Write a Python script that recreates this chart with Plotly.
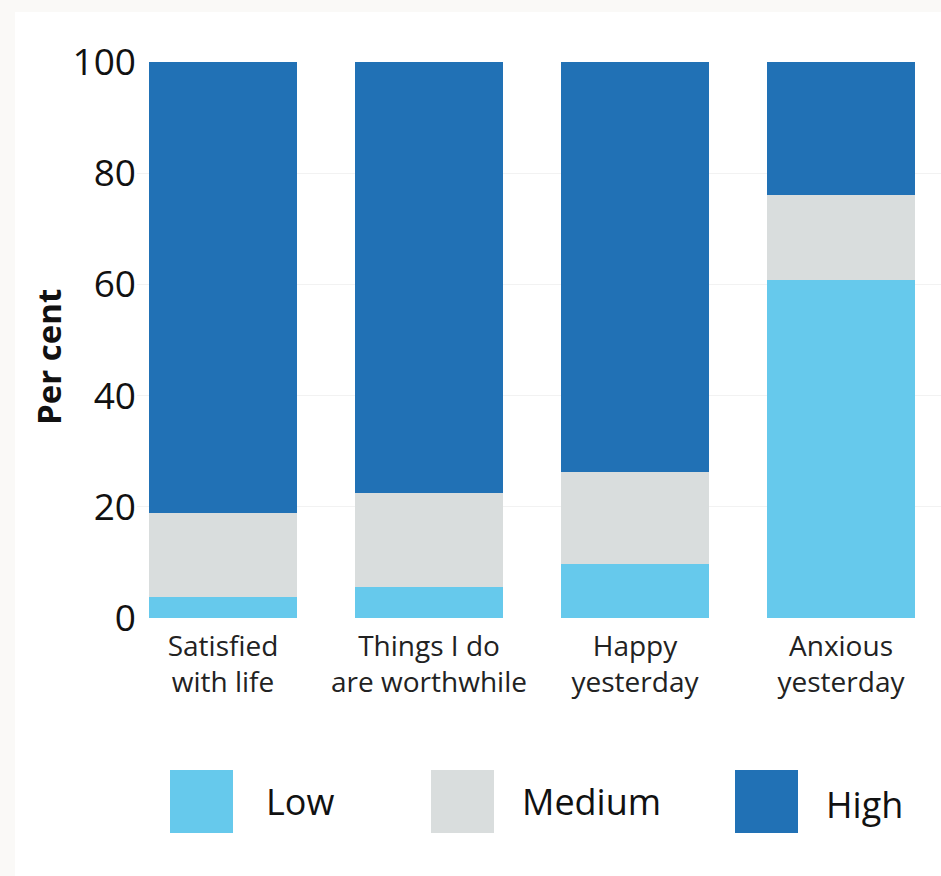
import plotly.graph_objects as go

categories = ["Satisfied<br>with life", "Things I do<br>are worthwhile", "Happy<br>yesterday", "Anxious<br>yesterday"]
series_names = ["Low", "Medium", "High"]
low = [3.7, 5.6, 9.8, 60.8]
medium = [15.1, 16.8, 16.4, 15.3]
high = [81.2, 77.6, 73.8, 23.9]
series_values = [low, medium, high]
colors = ["#66c9ec", "#d9dddd", "#2171b5"]
y_ticks = [0, 20, 40, 60, 80, 100]

FONT = "Open Sans"
W, H = 941, 876
L, R, T, B = 137, 941, 62, 618

fig = go.Figure()
for name, vals, col in zip(series_names, series_values, colors):
    fig.add_trace(go.Bar(x=categories, y=vals, name=name, marker=dict(color=col, line=dict(width=0)),
                         showlegend=False))

pw = R - L
ph = B - T
def px_x(p):
    return (p - L) / pw
def px_y(p):
    return (B - p) / ph

shapes = [dict(type="rect", xref="paper", yref="paper", x0=px_x(15), x1=px_x(945), y0=px_y(880), y1=px_y(12),
               fillcolor="white", line=dict(width=0), layer="below")]
annotations = [dict(xref="paper", yref="paper", x=px_x(48), y=px_y(357), text="<b>Per cent</b>", textangle=-90,
                    showarrow=False, xanchor="center", yanchor="middle",
                    font=dict(family=FONT, size=33, color="#111111"))]
leg_sq_x = [170, 431, 735]
leg_txt_x = [264, 520, 824]
for i, (name, col) in enumerate(zip(series_names, colors)):
    shapes.append(dict(type="rect", xref="paper", yref="paper", x0=px_x(leg_sq_x[i]), x1=px_x(leg_sq_x[i] + 63),
                       y0=px_y(833), y1=px_y(770), fillcolor=col, line=dict(width=0)))
    annotations.append(dict(xref="paper", yref="paper", x=px_x(leg_txt_x[i]), y=px_y(801 + (3 if i == 2 else 0)),
                            text=name, showarrow=False, xanchor="left", yanchor="middle",
                            font=dict(family=FONT, size=36, color="#111111")))

fig.update_layout(
    width=W, height=H,
    margin=dict(l=L, r=W - R, t=T, b=H - B, autoexpand=False),
    paper_bgcolor="#faf9f7",
    plot_bgcolor="white",
    barmode="stack",
    bargap=0.28,
    showlegend=False,
    shapes=shapes,
    annotations=annotations,
    font=dict(family=FONT, color="#111111"),
    xaxis=dict(range=[-(223 - L) / 206, -(223 - L) / 206 + pw / 206], showgrid=False, showline=False,
               ticks="", tickfont=dict(family=FONT, size=28, color="#222222"), automargin=False,
               ticklabelstandoff=9),
    yaxis=dict(range=[0, 100], tickvals=y_ticks, showgrid=True, gridcolor="#f2f2f2", gridwidth=1,
               zeroline=False, showline=False, ticks="", tickfont=dict(family=FONT, size=37, color="#111111"),
               automargin=False),
)

fig.write_html("out.html", config={"displayModeBar": False},
               post_script="document.body.style.margin='0';document.body.style.background='#faf9f7';")
